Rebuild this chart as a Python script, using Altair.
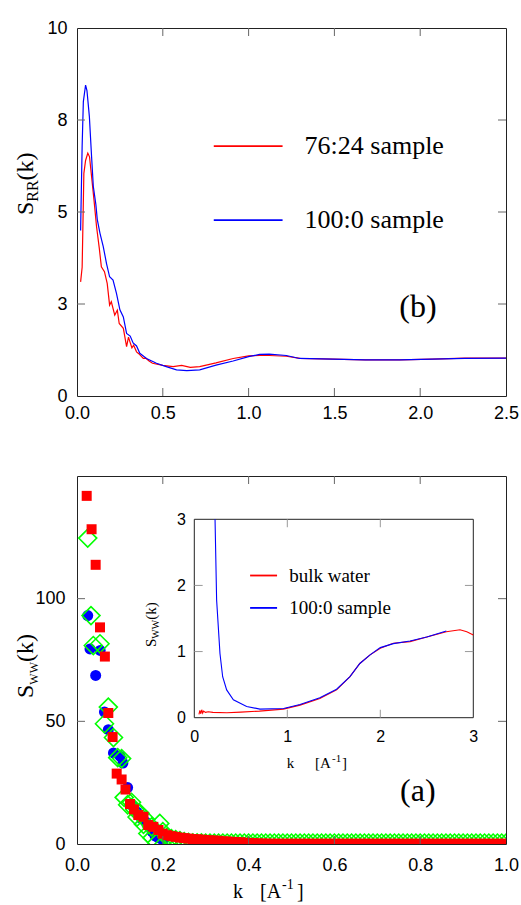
import altair as alt
import pandas as pd

SERIF = "Liberation Serif"
SANS = "Liberation Sans"
W, H = 429, 368
RED, BLUE, GREEN = "#ff0000", "#0000ff", "#00ff00"
TICK = "#666666"

# ---------------- panel (b): S_RR(k) ----------------
rr_red_k = [0.021, 0.030, 0.040, 0.050, 0.063, 0.073, 0.085, 0.099, 0.114, 0.130, 0.142, 0.160,
            0.176, 0.190, 0.200, 0.220, 0.235, 0.246, 0.270, 0.289, 0.300, 0.310, 0.320, 0.330,
            0.347, 0.360, 0.386, 0.400, 0.420, 0.440, 0.500, 0.560, 0.610, 0.660, 0.715, 0.810,
            0.910, 1.000, 1.064, 1.120, 1.220, 1.300, 1.490, 1.680, 1.880, 2.070, 2.260, 2.500]
rr_red_s = [3.1, 3.5, 6.05, 6.4, 6.6, 6.5, 5.96, 5.33, 4.6, 4.01, 3.51, 3.38,
            3.06, 2.47, 2.56, 2.2, 2.33, 1.97, 1.84, 1.34, 1.6, 1.45, 1.31, 1.38,
            1.2, 1.15, 1.02, 1.03, 0.95, 0.89, 0.83, 0.8, 0.83, 0.78, 0.8, 0.9,
            1.02, 1.09, 1.1, 1.1, 1.08, 1.02, 1.0, 0.98, 0.98, 1.0, 1.03, 1.03]
rr_blue_k = [0.021, 0.030, 0.037, 0.050, 0.058, 0.072, 0.085, 0.095, 0.110, 0.118, 0.134, 0.153,
             0.172, 0.190, 0.210, 0.230, 0.250, 0.270, 0.289, 0.310, 0.327, 0.347, 0.366, 0.405,
             0.463, 0.520, 0.580, 0.640, 0.715, 0.810, 0.910, 1.000, 1.064, 1.120, 1.220, 1.297,
             1.490, 1.680, 1.880, 2.070, 2.260, 2.500]
rr_blue_s = [4.5, 6.8, 8.0, 8.45, 8.3, 7.6, 6.5, 5.7, 5.2, 4.8, 4.42, 4.06,
             3.6, 3.24, 3.15, 2.79, 2.34, 2.15, 1.7, 1.63, 1.44, 1.36, 1.16, 1.02,
             0.89, 0.8, 0.71, 0.69, 0.71, 0.84, 0.95, 1.07, 1.13, 1.14, 1.1, 1.02,
             1.0, 0.98, 0.98, 1.0, 1.02, 1.03]
rr_series = ["76:24 sample", "100:0 sample"]
rr_xticks = [0, 0.5, 1.0, 1.5, 2.0, 2.5]
rr_yticks = [0, 2.5, 5, 7.5, 10]

# ---------------- panel (a): S_WW(k) scatter ----------------
ww_red_k = [0.0226, 0.034, 0.0435, 0.0536, 0.065, 0.073, 0.083, 0.0925, 0.104, 0.113, 0.1235,
            0.133, 0.143, 0.155, 0.166, 0.178, 0.190, 0.200]
ww_red_s = [141.9, 128.3, 113.8, 88.3, 76.4, 53.4, 43.6, 28.7, 26.3, 22.2, 16.3,
            14.1, 11.8, 11.1, 7.7, 7.0, 5.7, 4.2]
ww_blue_k = [0.025, 0.0303, 0.0435, 0.054, 0.064, 0.073, 0.085, 0.100, 0.107, 0.118, 0.131,
             0.140, 0.150, 0.160, 0.166, 0.175, 0.182, 0.190, 0.200]
ww_blue_s = [93.1, 79.5, 68.7, 78.9, 53.8, 46.6, 37.1, 35.8, 33.0, 23.0, 15.2,
             13.0, 10.5, 9.0, 8.0, 5.0, 3.3, 2.5, 1.5]
ww_green_k = [0.025, 0.0326, 0.038, 0.0536, 0.064, 0.073, 0.085, 0.095, 0.104, 0.110, 0.118,
              0.127, 0.135, 0.140, 0.147, 0.155, 0.160, 0.165, 0.174, 0.175, 0.186, 0.193, 0.200]
ww_green_s = [124.7, 93.1, 80.9, 81.6, 49.0, 55.8, 43.4, 35.2, 34.8, 19.0, 16.0,
              17.0, 14.0, 11.0, 12.5, 8.0, 10.0, 4.3, 7.0, 2.5, 0.5, 8.4, 5.0]
# dense high-k grid shared by red squares and green diamonds
ww_grid_k = [0.21, 0.22, 0.23, 0.24, 0.25, 0.26, 0.27, 0.28, 0.29, 0.30,
             0.31, 0.32, 0.33, 0.34, 0.35, 0.36, 0.37, 0.38, 0.39, 0.40,
             0.41, 0.42, 0.43, 0.44, 0.45, 0.46, 0.47, 0.48, 0.49, 0.50,
             0.51, 0.52, 0.53, 0.54, 0.55, 0.56, 0.57, 0.58, 0.59, 0.60,
             0.61, 0.62, 0.63, 0.64, 0.65, 0.66, 0.67, 0.68, 0.69, 0.70,
             0.71, 0.72, 0.73, 0.74, 0.75, 0.76, 0.77, 0.78, 0.79, 0.80,
             0.81, 0.82, 0.83, 0.84, 0.85, 0.86, 0.87, 0.88, 0.89, 0.90,
             0.91, 0.92, 0.93, 0.94, 0.95, 0.96, 0.97, 0.98, 0.99, 1.00]
ww_grid_red_s = [3.6, 3.2, 2.9, 2.6, 2.4, 2.2, 2.0, 1.9, 1.8, 1.6,
                 1.5, 1.4, 1.3, 1.1, 1.0, 0.9, 0.8, 0.7, 0.55, 0.45,
                 0.35, 0.25, 0.2, 0.15, 0.12, 0.1, 0.1, 0.1, 0.1, 0.1,
                 0.1, 0.1, 0.1, 0.1, 0.1, 0.1, 0.1, 0.1, 0.1, 0.1,
                 0.1, 0.1, 0.1, 0.1, 0.1, 0.1, 0.1, 0.1, 0.1, 0.1,
                 0.1, 0.1, 0.1, 0.1, 0.1, 0.1, 0.1, 0.1, 0.1, 0.1,
                 0.1, 0.1, 0.1, 0.1, 0.1, 0.1, 0.1, 0.1, 0.1, 0.1,
                 0.1, 0.1, 0.1, 0.1, 0.1, 0.1, 0.1, 0.1, 0.1, 0.1]
ww_grid_green_s = [2.8, 2.2, 1.8, 1.4, 1.0, 0.7, 0.5, 0.45, 0.45, 0.4,
                   0.4, 0.4, 0.4, 0.4, 0.4, 0.4, 0.4, 0.4, 0.4, 0.4,
                   0.4, 0.4, 0.4, 0.4, 0.4, 0.4, 0.4, 0.4, 0.4, 0.4,
                   0.4, 0.4, 0.4, 0.4, 0.4, 0.4, 0.4, 0.4, 0.4, 0.4,
                   0.4, 0.4, 0.4, 0.4, 0.4, 0.4, 0.4, 0.4, 0.4, 0.4,
                   0.4, 0.4, 0.4, 0.4, 0.4, 0.4, 0.4, 0.4, 0.4, 0.4,
                   0.4, 0.4, 0.4, 0.4, 0.4, 0.4, 0.4, 0.4, 0.4, 0.4,
                   0.4, 0.4, 0.4, 0.4, 0.4, 0.4, 0.4, 0.4, 0.4, 0.4]
ww_xticks = [0, 0.2, 0.4, 0.6, 0.8, 1.0]
ww_yticks = [0, 50, 100]

# ---------------- inset ----------------
in_red_k = [0.05, 0.06, 0.07, 0.08, 0.09, 0.10, 0.12, 0.15, 0.20, 0.35, 0.50, 0.70, 0.957, 1.137,
            1.35, 1.53, 1.674, 1.78, 1.89, 2.00, 2.14, 2.32, 2.50, 2.71, 2.857, 2.93, 3.00]
in_red_s = [0.05, 0.11, 0.06, 0.12, 0.07, 0.10, 0.08, 0.09, 0.08, 0.075, 0.085, 0.10, 0.13, 0.19,
            0.29, 0.42, 0.62, 0.82, 0.95, 1.05, 1.125, 1.15, 1.22, 1.30, 1.33, 1.30, 1.25]
in_blue_k = [0.223, 0.24, 0.276, 0.305, 0.348, 0.42, 0.563, 0.706, 0.96, 1.137, 1.35, 1.53,
             1.674, 1.78, 1.89, 2.00, 2.14, 2.32, 2.50, 2.71]
in_blue_s = [3.0, 1.78, 0.97, 0.62, 0.42, 0.27, 0.17, 0.13, 0.14, 0.20, 0.30, 0.43,
             0.62, 0.82, 0.95, 1.06, 1.12, 1.16, 1.22, 1.31]
in_series = ["bulk water", "100:0 sample"]
in_ticks = [0, 1, 2, 3]


def txt(s, x, y, size, angle=0, font=SERIF, baseline="alphabetic", align="left"):
    return alt.Chart(pd.DataFrame({"t": [s]})).mark_text(
        font=font, fontSize=size, angle=angle, align=align, baseline=baseline, color="black"
    ).encode(x=alt.value(x), y=alt.value(y), text="t:N")


def inward_ticks(xvals, yvals, xf, yf, L=8):
    dx = pd.DataFrame({"v": xvals})
    dy = pd.DataFrame({"v": yvals})
    base_x = alt.Chart(dx).mark_rule(color=TICK, strokeWidth=1)
    base_y = alt.Chart(dy).mark_rule(color=TICK, strokeWidth=1)
    return [
        base_x.encode(x=alt.X("v:Q", axis=xf[1], scale=xf[0]), y=alt.value(0), y2=alt.value(L)),
        base_x.encode(x=alt.X("v:Q", axis=xf[1], scale=xf[0]), y=alt.value(H - L), y2=alt.value(H)),
        base_y.encode(y=alt.Y("v:Q", axis=yf[1], scale=yf[0]), x=alt.value(0), x2=alt.value(L)),
        base_y.encode(y=alt.Y("v:Q", axis=yf[1], scale=yf[0]), x=alt.value(W - L), x2=alt.value(W)),
    ]


# ---------- top panel ----------
xs_b = alt.Scale(domain=[0, 2.5], nice=False)
ys_b = alt.Scale(domain=[0, 10], nice=False)
xa_b = alt.Axis(values=rr_xticks, format=".1f", title=None, labelPadding=8)
ya_b = alt.Axis(values=rr_yticks, title=None, labelPadding=10,
                labelExpr="datum.value == 2.5 ? '3' : datum.value == 7.5 ? '8' : datum.label")

df_rr_red = pd.DataFrame({"k": rr_red_k, "S": rr_red_s})
df_rr_blue = pd.DataFrame({"k": rr_blue_k, "S": rr_blue_s})


def line_layer(df, color, xs, xa, ys, ya, sw=1.2):
    return alt.Chart(df).mark_line(color=color, strokeWidth=sw).encode(
        x=alt.X("k:Q", scale=xs, axis=xa), y=alt.Y("S:Q", scale=ys, axis=ya), order="k:Q")


leg_b = pd.DataFrame({"x": [0.797, 0.797], "x2": [1.198, 1.198], "y": [6.79, 4.78],
                      "tx": [1.326, 1.326], "name": rr_series})
top_layers = [
    line_layer(df_rr_red, RED, xs_b, xa_b, ys_b, ya_b),
    line_layer(df_rr_blue, BLUE, xs_b, xa_b, ys_b, ya_b),
]
for i, c in enumerate([RED, BLUE]):
    d = leg_b.iloc[[i]]
    top_layers.append(alt.Chart(d).mark_rule(color=c, strokeWidth=1.8).encode(
        x=alt.X("x:Q", scale=xs_b, axis=xa_b), x2="x2:Q", y=alt.Y("y:Q", scale=ys_b, axis=ya_b)))
    top_layers.append(alt.Chart(d).mark_text(font=SERIF, fontSize=26, align="left",
                                             baseline="middle", color="black").encode(
        x=alt.X("tx:Q", scale=xs_b, axis=xa_b), y=alt.Y("y:Q", scale=ys_b, axis=ya_b), text="name:N"))
top_layers.append(alt.Chart(pd.DataFrame({"x": [1.878], "y": [2.42], "t": ["(b)"]})).mark_text(
    font=SERIF, fontSize=32, align="left", baseline="middle", color="black").encode(
    x=alt.X("x:Q", scale=xs_b, axis=xa_b), y=alt.Y("y:Q", scale=ys_b, axis=ya_b), text="t:N"))
top_layers += inward_ticks([0.5, 1.0, 1.5, 2.0], [2.5, 5, 7.5], (xs_b, xa_b), (ys_b, ya_b))
top_layers += [
    txt("S", -44, 187, 24, angle=270),
    txt("RR", -39, 173.7, 16, angle=270),
    txt("(k)", -44, 152.4, 24, angle=270),
]
top = alt.layer(*top_layers).properties(width=W, height=H)

# ---------- bottom panel ----------
xs_a = alt.Scale(domain=[0, 1.0], nice=False)
ys_a = alt.Scale(domain=[0, 150], nice=False)
xa_a = alt.Axis(values=ww_xticks, format=".1f", title=None, labelPadding=12)
ya_a = alt.Axis(values=ww_yticks, format="d", title=None, labelPadding=12)

df_blue = pd.DataFrame({"k": ww_blue_k, "S": ww_blue_s})
df_green = pd.DataFrame({"k": ww_green_k + ww_grid_k, "S": ww_green_s + ww_grid_green_s})
df_red = pd.DataFrame({"k": ww_red_k + ww_grid_k, "S": ww_red_s + ww_grid_red_s})

main_layers = [
    alt.Chart(df_blue).mark_point(shape="circle", filled=True, size=121, color=BLUE, opacity=1,
                                  clip=True).encode(
        x=alt.X("k:Q", scale=xs_a, axis=xa_a), y=alt.Y("S:Q", scale=ys_a, axis=ya_a)),
    alt.Chart(df_green).mark_point(shape="diamond", filled=False, size=324, color=GREEN,
                                   strokeWidth=1.6, opacity=1, clip=True).encode(
        x=alt.X("k:Q", scale=xs_a, axis=xa_a), y=alt.Y("S:Q", scale=ys_a, axis=ya_a)),
    alt.Chart(df_red).mark_point(shape="square", filled=True, size=100, color=RED, opacity=1,
                                 clip=True).encode(
        x=alt.X("k:Q", scale=xs_a, axis=xa_a), y=alt.Y("S:Q", scale=ys_a, axis=ya_a)),
    alt.Chart(pd.DataFrame({"x": [0.753], "y": [21.5], "t": ["(a)"]})).mark_text(
        font=SERIF, fontSize=32, align="left", baseline="middle", color="black").encode(
        x=alt.X("x:Q", scale=xs_a, axis=xa_a), y=alt.Y("y:Q", scale=ys_a, axis=ya_a), text="t:N"),
]
main_layers += inward_ticks([0.2, 0.4, 0.6, 0.8], [50, 100], (xs_a, xa_a), (ys_a, ya_a))
main_layers += [
    txt("S", -44, 222, 24, angle=270),
    txt("WW", -39, 208.7, 12, angle=270),
    txt("(k)", -44, 186, 24, angle=270),
    txt("k", 156, 422, 20),
    txt("[A", 183, 422, 20),
    txt("-1", 205, 413, 14),
    txt("]", 220, 422, 20),
]
main_group = alt.layer(*main_layers)

# inset group with its own scales placed inside the panel
IN_L, IN_R, IN_T, IN_B = 117.3, 396.3, 43.3, 241.7
xs_i = alt.Scale(domain=[0, 3], range=[IN_L, IN_R], nice=False)
ys_i = alt.Scale(domain=[0, 3], range=[IN_B, IN_T], nice=False)
xa_i = alt.Axis(orient="bottom", offset=-(H - IN_B), values=in_ticks, format="d", title=None,
                labelFontSize=16, labelPadding=11)
ya_i = alt.Axis(orient="left", offset=-IN_L, values=in_ticks, format="d", title=None,
                labelFontSize=16, labelPadding=9)

frame = pd.DataFrame({"x": [0], "x2": [3], "y": [0], "y2": [3]})
inset_ticks = pd.DataFrame({
    "x": [1, 2, 1, 2, 0, 0, 3, 3],
    "x2": [1, 2, 1, 2, 0.09, 0.09, 2.91, 2.91],
    "y": [0, 0, 3, 3, 1, 2, 1, 2],
    "y2": [0.12, 0.12, 2.88, 2.88, 1, 2, 1, 2],
})
leg_i = pd.DataFrame({"x": [0.6, 0.6], "x2": [0.89, 0.89], "y": [2.15, 1.66],
                      "tx": [1.02, 1.02], "name": in_series})

inset_layers = [
    alt.Chart(frame).mark_rect(fill="white", stroke="#222222", strokeWidth=1).encode(
        x=alt.X("x:Q", scale=xs_i, axis=xa_i), x2="x2:Q",
        y=alt.Y("y:Q", scale=ys_i, axis=ya_i), y2="y2:Q"),
    alt.Chart(inset_ticks).mark_rule(color="#999999", strokeWidth=1).encode(
        x=alt.X("x:Q", scale=xs_i, axis=xa_i), x2="x2:Q",
        y=alt.Y("y:Q", scale=ys_i, axis=ya_i), y2="y2:Q"),
    line_layer(pd.DataFrame({"k": in_red_k, "S": in_red_s}), RED, xs_i, xa_i, ys_i, ya_i, 1.1),
    line_layer(pd.DataFrame({"k": in_blue_k, "S": in_blue_s}), BLUE, xs_i, xa_i, ys_i, ya_i, 1.1),
]
for i, c in enumerate([RED, BLUE]):
    d = leg_i.iloc[[i]]
    inset_layers.append(alt.Chart(d).mark_rule(color=c, strokeWidth=1.8).encode(
        x=alt.X("x:Q", scale=xs_i, axis=xa_i), x2="x2:Q", y=alt.Y("y:Q", scale=ys_i, axis=ya_i)))
    inset_layers.append(alt.Chart(d).mark_text(font=SERIF, fontSize=19, align="left",
                                               baseline="middle", color="black").encode(
        x=alt.X("tx:Q", scale=xs_i, axis=xa_i), y=alt.Y("y:Q", scale=ys_i, axis=ya_i),
        text="name:N"))
inset_layers += [
    txt("S", 79, 171, 15, angle=270),
    txt("WW", 82, 162.7, 10, angle=270),
    txt("(k)", 79, 143.8, 15, angle=270),
    txt("k", 209.7, 292, 15),
    txt("[A", 238, 292, 15),
    txt("-1", 255, 286, 11),
    txt("]", 265, 292, 15),
]
inset_group = alt.layer(*inset_layers)

bottom = alt.layer(main_group, inset_group).resolve_scale(
    x="independent", y="independent").properties(width=W, height=H)

chart = alt.vconcat(top, bottom, spacing=80, bounds="flush",
                    padding={"left": 13, "top": 18, "right": 0, "bottom": 0}).configure_view(
    stroke="#222222", strokeWidth=1
).configure_axis(
    domain=False, ticks=False, grid=False, labelFont=SANS, labelFontSize=18,
    labelColor="black", labelOverlap=False, labelBound=False, labelFlush=False
)

chart.save("out.html", embed_options={"renderer": "svg", "actions": False})
